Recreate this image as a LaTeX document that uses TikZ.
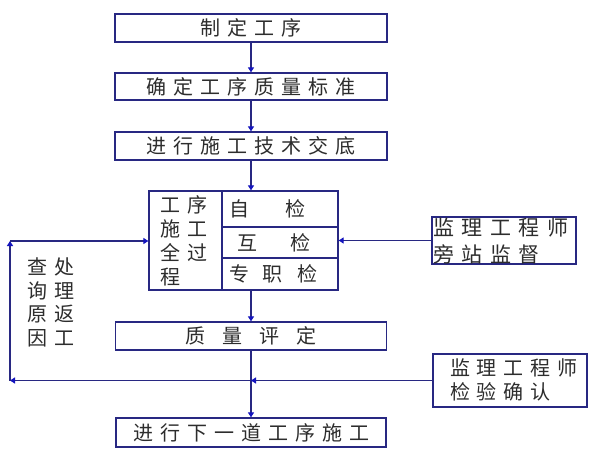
\documentclass[tikz,border=0pt]{standalone}
\usepackage{fontspec}
\setmainfont{Noto Sans CJK SC}
\usetikzlibrary{arrows.meta}
\definecolor{ln}{RGB}{40,40,130}
\definecolor{tipc}{RGB}{20,20,190}
\definecolor{tx}{RGB}{45,45,45}
\newcommand\sg[1]{\hspace{#1pt}}
\begin{document}
\begin{tikzpicture}[x=1pt,y=-1pt,
  box/.style={draw=ln,line width=1.3pt,fill=white,inner sep=0pt,text=tx,font=\fontsize{20}{24}\selectfont},
  lbl/.style={inner sep=0pt,text=tx,font=\fontsize{20}{24}\selectfont,align=left},
  conn/.style={draw=ln,line width=1.2pt},
  arr/.style={conn,-{Triangle[width=6pt,length=5pt,color=tipc]}}]
\useasboundingbox (0,0) rectangle (600,450);
\fill[white] (0,0) rectangle (600,450);

\node[box,minimum width=272pt,minimum height=28pt] (b1) at (251,28) {制\sg7定\sg7工\sg7序};
\node[box,minimum width=272pt,minimum height=27pt] (b2) at (251,86.5) {确\sg7定\sg7工\sg7序\sg7质\sg7量\sg7标\sg7准};
\node[box,minimum width=272pt,minimum height=28pt] (b3) at (251,146) {进\sg7行\sg7施\sg7工\sg7技\sg7术\sg7交\sg7底};

\node[box,minimum width=73pt,minimum height=99pt] (lc) at (185.5,240.5) {};
\node[box,minimum width=116pt,minimum height=36pt] (r1) at (280,209) {};
\node[box,minimum width=116pt,minimum height=31pt] (r2) at (280,242.5) {};
\node[box,minimum width=116pt,minimum height=32pt] (r3) at (280,274) {};
\node[lbl,anchor=west] (lct) at (160,241) {工\sg7序\\施\sg7工\\全\sg7过\\程};
\node[lbl,anchor=west] (t1) at (229,209) {自\sg{36}检};
\node[lbl,anchor=west] (t2) at (237,242.5) {互\sg{33}检};
\node[lbl,anchor=west] (t3) at (229,274) {专\sg{13}职\sg{15}检};

\node[box,minimum width=271pt,minimum height=28pt] (q) at (251,336) {质\sg{17}量\sg{17}评\sg{17}定};
\node[box,minimum width=270pt,minimum height=29pt] (f) at (251,432.5) {进\sg7行\sg7下\sg7一\sg7道\sg7工\sg7序\sg7施\sg7工};

\node[box,minimum width=144pt,minimum height=47pt] (s1) at (504,240.5) {};
\node[lbl,anchor=west,font=\fontsize{21}{27}\selectfont] (s1t) at (433,241.5) {监\sg{7.5}理\sg{7.5}工\sg{7.5}程\sg{7.5}师\\旁\sg{7.5}站\sg{7.5}监\sg{7.5}督};
\node[box,minimum width=154pt,minimum height=53pt] (s2) at (510,380.5) {};
\node[lbl,anchor=west] (s2t) at (450,380) {监\sg{6.75}理\sg{6.75}工\sg{6.75}程\sg{6.75}师\\检\sg{6.75}验\sg{6.75}确\sg{6.75}认};

\node[lbl,anchor=west,font=\fontsize{20}{23.7}\selectfont] (note) at (27,302.5) {查\sg7处\\询\sg7理\\原\sg7返\\因\sg7工};

\draw[arr] (b1.south) -- (b2.north);
\draw[arr] (b2.south) -- (b3.north);
\draw[arr] (b3.south) -- (b3.south |- r1.north);
\draw[arr] (b3.south |- r3.south) -- (q.north);
\draw[arr] (q.south) -- (f.north);
\coordinate (j) at (q.south |- s2.west);
\coordinate (bl) at (10,380.5);
\coordinate (tl) at (10,241);
\draw[arr] (s2.west) -- (j);
\draw[arr] (j) -- (bl);
\draw[arr] (bl) -- (tl);
\draw[arr] (tl) -- (tl -| lc.west);
\draw[arr] (s1.west) -- (s1.west -| r1.east);
\end{tikzpicture}
\end{document}
